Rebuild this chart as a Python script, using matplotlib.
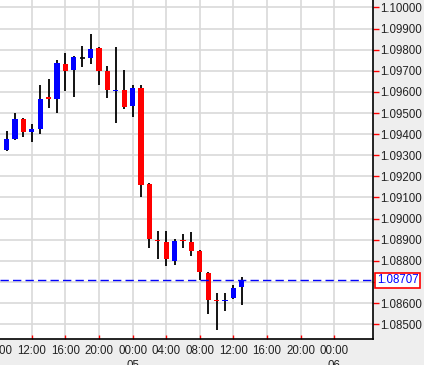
import matplotlib
matplotlib.use("Agg")
import matplotlib.pyplot as plt
import matplotlib.transforms as mtransforms
import numpy as np

plt.rcParams['font.family'] = ['Liberation Sans', 'DejaVu Sans']

# hourly candles starting at 09:00 on day 04
start_hour = 9
opens = [1.09325, 1.09377, 1.09471, 1.09410, 1.09424, 1.09576, 1.09566, 1.09732,
         1.09703, 1.09762, 1.09760, 1.09807, 1.09699, 1.09607, 1.09609, 1.09533,
         1.09618, 1.09164, 1.08901, 1.08889, 1.08799, 1.08899, 1.08889, 1.08847,
         1.08743, 1.08617, 1.08608, 1.08624, 1.08676]
highs = [1.09415, 1.09500, 1.09478, 1.09448, 1.09632, 1.09661, 1.09751, 1.09784,
         1.09770, 1.09817, 1.09874, 1.09812, 1.09722, 1.09812, 1.09703, 1.09632,
         1.09632, 1.09169, 1.08941, 1.08941, 1.08904, 1.08927, 1.08937, 1.08852,
         1.08748, 1.08648, 1.08648, 1.08686, 1.08724]
lows = [1.09321, 1.09372, 1.09386, 1.09363, 1.09400, 1.09524, 1.09500, 1.09604,
        1.09576, 1.09717, 1.09732, 1.09632, 1.09571, 1.09453, 1.09519, 1.09481,
        1.09104, 1.08861, 1.08809, 1.08776, 1.08781, 1.08861, 1.08823, 1.08710,
        1.08549, 1.08473, 1.08563, 1.08620, 1.08591]
closes = [1.09377, 1.09471, 1.09410, 1.09424, 1.09566, 1.09566, 1.09736, 1.09699,
          1.09765, 1.09762, 1.09803, 1.09699, 1.09609, 1.09610, 1.09528, 1.09618,
          1.09159, 1.08904, 1.08894, 1.08809, 1.08894, 1.08894, 1.08847, 1.08748,
          1.08615, 1.08608, 1.08617, 1.08672, 1.08707]
last_price = 1.08707

y_ticks = [1.085, 1.086, 1.087, 1.088, 1.089, 1.090, 1.091, 1.092, 1.093,
           1.094, 1.095, 1.096, 1.097, 1.098, 1.099, 1.100]
x_tick_hours = [8, 12, 16, 20, 24, 28, 32, 36, 40, 44, 48]
x_tick_labels = ["08:00", "12:00", "16:00", "20:00", "00:00", "04:00", "08:00",
                 "12:00", "16:00", "20:00", "00:00"]
day_hours = [24, 48]
day_labels = ["05", "06"]

W, H = 424, 365
fig = plt.figure(figsize=(W / 100, H / 100), dpi=100, facecolor="#eeeeee")
ax = fig.add_axes([0, (H - 339) / H, 373 / W, 339 / H])
ax.set_facecolor("white")

x = start_hour + np.arange(len(opens))
o = np.array(opens); c = np.array(closes); hi = np.array(highs); lo = np.array(lows)

ax.vlines(x, lo, hi, color="black", lw=1.3, zorder=3)
min_h = 0.00005
for xi, oi, ci in zip(x, o, c):
    if abs(ci - oi) < 1e-7:
        ax.hlines(oi, xi - 0.3, xi + 0.3, color="black", lw=1.2, zorder=4)
        continue
    col = "#0000ff" if ci > oi else "#ff0000"
    bot = min(oi, ci)
    h = max(abs(ci - oi), min_h)
    if abs(ci - oi) < min_h:
        bot = (oi + ci) / 2 - min_h / 2
    ax.bar(xi, h, bottom=bot, width=0.62, color=col, lw=0, zorder=4)

ax.axhline(last_price, color="#0000ff", lw=1, ls=(0, (6, 3)), zorder=5)

ax.set_xlim(8.226, 52.6)
ax.set_ylim(1.08430, 1.10035)

ax.set_yticks(y_ticks)
# the 1.08700 label is hidden behind the last-price box in the reference
ax.set_yticklabels(["" if abs(v - 1.087) < 1e-9 else f"{v:.5f}" for v in y_ticks])
ax.yaxis.tick_right()
ax.tick_params(axis="y", colors="#ff0000", length=4, width=1, pad=1,
               labelcolor="#222222", labelsize=8.3)
visible_x = [h for h in x_tick_hours if h >= 8.226]
ax.set_xticks(visible_x)
ax.set_xticklabels([])
ax.tick_params(axis="x", colors="#ff0000", length=3, width=1, direction="in")
ax.grid(True, color="#d9d9d9", lw=1.2, zorder=0)
ax.set_axisbelow(True)

for s in ["left", "top"]:
    ax.spines[s].set_visible(False)
ax.spines["right"].set_color("black")
ax.spines["bottom"].set_color("black")
ax.spines["right"].set_linewidth(1.2)
ax.spines["bottom"].set_linewidth(1.2)

trans = mtransforms.blended_transform_factory(ax.transData, fig.transFigure)
for hx, lab in zip(x_tick_hours, x_tick_labels):
    ax.text(hx, (H - 351) / H, lab, transform=trans, ha="center", va="center",
            fontsize=8.3, color="#222222", clip_on=False)
for hx, lab in zip(day_hours, day_labels):
    ax.text(hx, (H - 366) / H, lab, transform=trans, ha="center", va="center",
            fontsize=8.3, color="#222222", clip_on=False)

ax.text(1.0 + 4 / 373, last_price, f"{last_price:.5f}",
        transform=mtransforms.blended_transform_factory(ax.transAxes, ax.transData),
        ha="left", va="center", fontsize=8.3, color="#0000ff", zorder=6,
        bbox=dict(boxstyle="square,pad=0.15", fc="white", ec="#ff0000", lw=1.2),
        clip_on=False)

fig.savefig("out.png", dpi=100, facecolor=fig.get_facecolor())
